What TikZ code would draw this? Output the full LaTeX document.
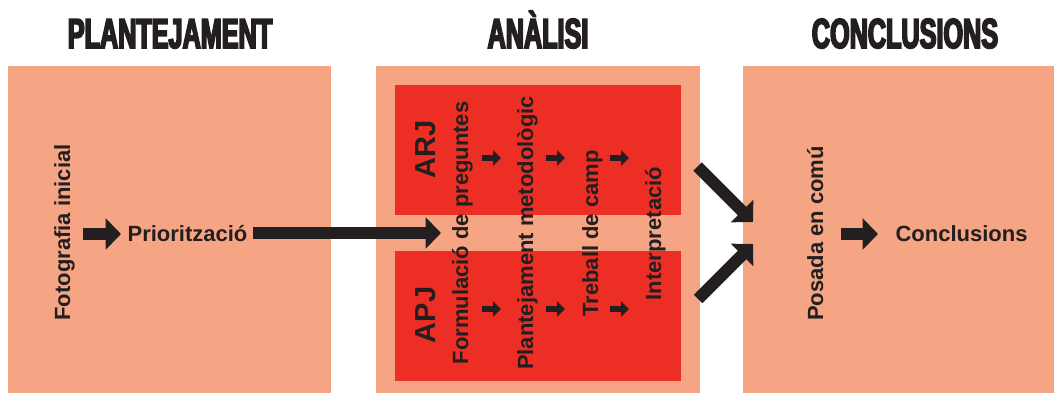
\documentclass[tikz,border=0pt]{standalone}
\usepackage{fontspec}
\setmainfont{Liberation Sans}
\newfontfamily\titlefont{Liberation Sans}[BoldFeatures={FakeStretch=0.6,FakeBold=4}]
\usetikzlibrary{arrows.meta}
\definecolor{salmon}{HTML}{F6A584}
\definecolor{redbox}{HTML}{ED2E24}
\definecolor{ink}{HTML}{231F20}
\tikzset{
  panel/.style={fill=salmon,draw=none},
  innerpanel/.style={fill=redbox,draw=none},
  title/.style={anchor=base,inner sep=0pt,text=ink,font=\titlefont\bfseries\fontsize{42}{42}\selectfont},
  label/.style={anchor=base,inner sep=0pt,text=ink,font=\bfseries\fontsize{22}{22}\selectfont},
  vlabel/.style={label,rotate=90},
  biglabel/.style={anchor=base,inner sep=0pt,text=ink,rotate=90,font=\bfseries\fontsize{29}{29}\selectfont},
  bigarrow/.style={draw=ink,line width=12pt,-{Triangle[length=15.5pt,width=31pt]}},
  smallarrow/.style={draw=ink,line width=6pt,-{Triangle[length=8pt,width=15pt]}},
}
\begin{document}
\begin{tikzpicture}[x=1pt,y=-1pt]
\useasboundingbox (0,0) rectangle (1054,394);
% panels
\fill[panel] (8,66) rectangle (331,393);
\fill[panel] (376,66) rectangle (700,393);
\fill[panel] (743,66) rectangle (1054,393);
\fill[innerpanel] (395,85) rectangle (681,215);
\fill[innerpanel] (395,251) rectangle (681,381);
% titles
\node[title] (t1) at (170,48) {PLANTEJAMENT};
\node[title] (t2) at (538,48) {ANÀLISI};
\node[title] (t3) at (905,48) {CONCLUSIONS};
% left column
\node[vlabel] (foto) at (70,232.5) {Fotografia inicial};
\node[label] (prior) at (187.5,241) {Priorització};
\coordinate (a1s) at (83,234);
\coordinate (a1e) at (121,234);
\draw[bigarrow] (a1s) -- (a1e);
\coordinate (a2s) at (253,233);
\coordinate (a2e) at (441,233);
\draw[bigarrow] (a2s) -- (a2e);
% middle column
\node[biglabel] (arj) at (435,149.5) {ARJ};
\node[biglabel] (apj) at (435,315) {APJ};
\node[vlabel] (form) at (468,233) {Formulació de preguntes};
\node[vlabel] (plan) at (533,233) {Plantejament metodològic};
\node[vlabel] (treb) at (598,233.5) {Treball de camp};
\node[vlabel] (interp) at (661,233.5) {Interpretació};
\foreach \x [count=\i] in {482,546,610}{
  \coordinate (u\i s) at (\x,158);
  \coordinate (u\i e) at (\x+19,158);
  \draw[smallarrow] (u\i s) -- (u\i e);
  \coordinate (l\i s) at (\x,309);
  \coordinate (l\i e) at (\x+19,309);
  \draw[smallarrow] (l\i s) -- (l\i e);
}
% diagonal arrows
\coordinate (d1s) at (697.5,166.5);
\coordinate (d1e) at (753,222);
\draw[bigarrow] (d1s) -- (d1e);
\coordinate (d2s) at (698,299);
\coordinate (d2e) at (753,244);
\draw[bigarrow] (d2s) -- (d2e);
% right column
\node[vlabel] (posada) at (823,233.5) {Posada en comú};
\node[label] (concl) at (961.5,241) {Conclusions};
\coordinate (a3s) at (841,234);
\coordinate (a3e) at (878,234);
\draw[bigarrow] (a3s) -- (a3e);
\end{tikzpicture}
\end{document}
